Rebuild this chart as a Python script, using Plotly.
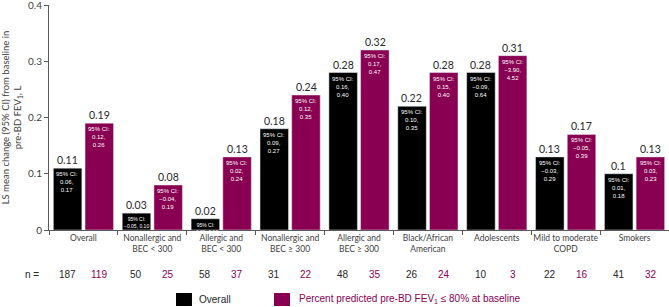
import plotly.graph_objects as go

categories = ["Overall", "Nonallergic and<br>BEC &lt; 300", "Allergic and<br>BEC &lt; 300",
              "Nonallergic and<br>BEC ≥ 300", "Allergic and<br>BEC ≥ 300",
              "Black/African<br>American", "Adolescents", "Mild to moderate<br>COPD", "Smokers"]
overall_vals = [0.11, 0.03, 0.02, 0.18, 0.28, 0.22, 0.28, 0.13, 0.1]
low_vals = [0.19, 0.08, 0.13, 0.24, 0.32, 0.28, 0.31, 0.17, 0.13]
overall_ci = [("0.06", "0.17"), ("−0.05", "0.10"), ("−0.09", "0.12"), ("0.09", "0.27"),
              ("0.16", "0.40"), ("0.10", "0.35"), ("−0.09", "0.64"), ("−0.03", "0.29"),
              ("0.01", "0.18")]
low_ci = [("0.12", "0.26"), ("−0.04", "0.19"), ("0.02", "0.24"), ("0.12", "0.35"),
          ("0.17", "0.47"), ("0.15", "0.40"), ("−3.90", "4.52"), ("−0.05", "0.39"),
          ("0.03", "0.23")]
overall_n = [187, 50, 58, 31, 48, 26, 10, 22, 41]
low_n = [119, 25, 37, 22, 35, 24, 3, 16, 32]
value_labels_overall = ["0.11", "0.03", "0.02", "0.18", "0.28", "0.22", "0.28", "0.13", "0.1"]
value_labels_low = ["0.19", "0.08", "0.13", "0.24", "0.32", "0.28", "0.31", "0.17", "0.13"]
y_tickvals = [0, 0.1, 0.2, 0.3, 0.4]
y_ticktext = ["0", "0.1", "0.2", "0.3", "0.4"]

BLACK = "#000000"
MAG = "#890052"
TXT = "#262626"

fig = go.Figure()
fig.add_trace(go.Bar(x=categories, y=overall_vals, marker_color=BLACK, name="Overall",
                     showlegend=False, hoverinfo="skip"))
fig.add_trace(go.Bar(x=categories, y=low_vals, marker_color=MAG,
                     name="Percent predicted pre-BD FEV1 ≤ 80% at baseline",
                     showlegend=False, hoverinfo="skip"))

annotations = []
SHIFT = 16
for i, cat in enumerate(categories):
    for vals, labels, cis, ns, sh, col in [
        (overall_vals, value_labels_overall, overall_ci, overall_n, -SHIFT, TXT),
        (low_vals, value_labels_low, low_ci, low_n, SHIFT, MAG)]:
        v = vals[i]
        annotations.append(dict(x=i, y=v, xref="x", yref="y", xshift=sh, yshift=0,
                                text=labels[i], showarrow=False, yanchor="bottom",
                                font=dict(family="Lato", size=10.5, color=TXT)))
        lo, hi = cis[i]
        if v < 0.05:
            t = f"95% CI:<br>{lo}, {hi}"
            fs = 5
        else:
            t = f"95% CI:<br>{lo},<br>{hi}"
            fs = 6
        annotations.append(dict(x=i, y=v, xref="x", yref="y", xshift=sh, yshift=-1,
                                text=t, showarrow=False, yanchor="top",
                                font=dict(family="Liberation Sans", size=fs, color="white")))
        annotations.append(dict(x=i, y=-0.1956, xref="x", yref="paper", xshift=sh,
                                text=str(ns[i]), showarrow=False, yanchor="middle",
                                font=dict(family="Liberation Sans", size=10, color=col)))

annotations.append(dict(x=-0.042, y=-0.1956, xref="paper", yref="paper", text="n =",
                        showarrow=False, yanchor="middle",
                        font=dict(family="Liberation Sans", size=10, color=TXT)))
annotations.append(dict(x=0.2387, y=-0.3067, xref="paper", yref="paper", text="Overall",
                        showarrow=False, xanchor="left", yanchor="middle",
                        font=dict(family="Liberation Sans", size=10, color=TXT)))
annotations.append(dict(x=0.40, y=-0.3067, xref="paper", yref="paper",
                        text="Percent predicted pre-BD FEV<sub>1</sub> ≤ 80% at baseline",
                        showarrow=False, xanchor="left", yanchor="middle",
                        font=dict(family="Liberation Sans", size=10, color=MAG)))

shapes = [
    dict(type="rect", xref="paper", yref="paper", x0=0.2048, x1=0.2306, y0=-0.28, y1=-0.3378,
         fillcolor=BLACK, line=dict(width=0)),
    dict(type="rect", xref="paper", yref="paper", x0=0.3629, x1=0.3887, y0=-0.28, y1=-0.3378,
         fillcolor=MAG, line=dict(width=0)),
]

fig.update_layout(
    width=669, height=307,
    margin=dict(l=49, r=0, t=5, b=77),
    paper_bgcolor="white", plot_bgcolor="white",
    barmode="group", bargap=0.08, bargroupgap=0.1,
    annotations=annotations, shapes=shapes,
    showlegend=False,
)
fig.update_xaxes(showline=True, linecolor="#595959", linewidth=1, ticks="outside",
                 tickson="boundaries", ticklen=4, tickcolor="#595959", tickangle=0,
                 automargin=False,
                 tickfont=dict(family="Lato", size=8.5, color="#404040"),
                 range=[-0.5, 8.5], showgrid=False)
fig.update_yaxes(range=[0, 0.4], tickvals=y_tickvals, ticktext=y_ticktext,
                 ticklabeloverflow="allow",
                 showline=True, linecolor="#595959", linewidth=1,
                 ticks="outside", ticklen=4, tickcolor="#595959", showgrid=False, zeroline=False,
                 automargin=False,
                 tickfont=dict(family="Lato", size=10, color="#404040"),
                 title=dict(text="LS mean change (95% CI) from baseline in<br>pre-BD FEV<sub>1</sub>, L",
                            font=dict(family="Lato", size=9.5, color="#404040"), standoff=6))

fig.write_html("out.html", config={"displayModeBar": False},
               post_script="document.body.style.margin='0';")
